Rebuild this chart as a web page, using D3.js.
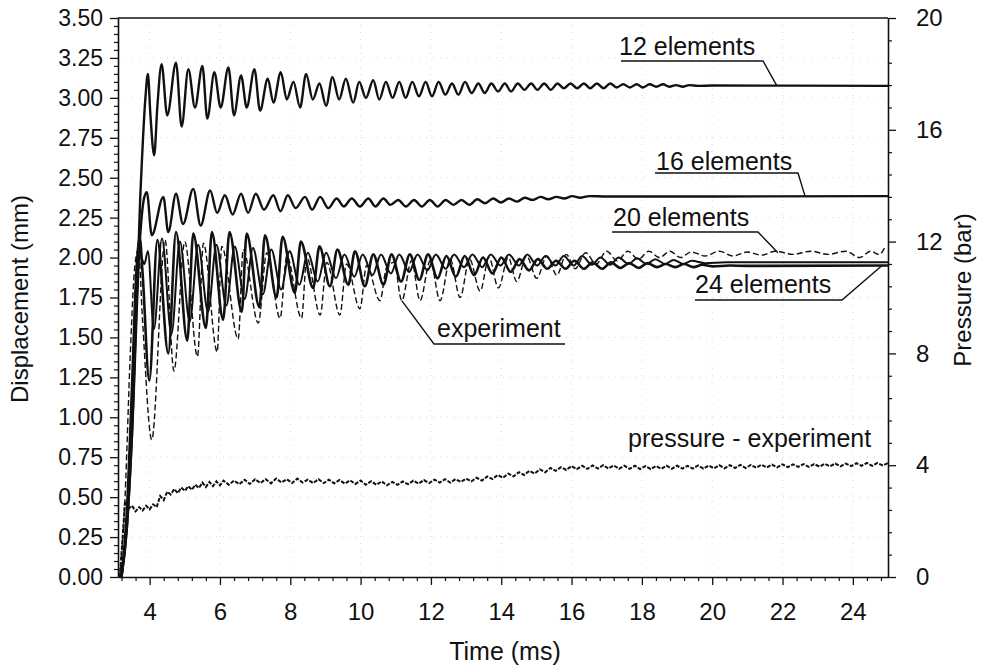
<!DOCTYPE html>
<html><head><meta charset="utf-8">
<script src="https://cdn.jsdelivr.net/npm/d3@7"></script>
<style>
body{margin:0;background:#fff}
svg{display:block}
text{font-family:"Liberation Sans",Arial,sans-serif;fill:#111}
</style>
</head><body>
<svg id="chart" width="982" height="671"></svg>
<script>
// ---------------- data ----------------
const xTicks = [4,6,8,10,12,14,16,18,20,22,24];
const yLeftTicks = [0,0.25,0.5,0.75,1.0,1.25,1.5,1.75,2.0,2.25,2.5,2.75,3.0,3.25,3.5];
const yRightTicks = [0,4,8,12,16,20];
const seriesNames = ["12 elements","16 elements","20 elements","24 elements","experiment","pressure - experiment"];

// [time (ms), displacement (mm)]
const s12 = [[3.2,0],[3.35,0.3],[3.5,0.9],[3.73,2.36],[3.88,3.0],[3.95,3.15],[4.02,2.9],[4.13,2.64],[4.22,2.95],[4.34,3.21],[4.50,2.89],[4.75,3.22],[4.91,2.82],[5.10,3.18],[5.29,2.94],[5.50,3.20],[5.64,2.87],[5.84,3.16],[6.02,2.94],[6.24,3.19],[6.40,2.89],[6.60,3.14],[6.76,2.94],[6.98,3.18],[7.14,2.92],[7.36,3.12],[7.52,2.97],[7.73,3.16],[7.90,2.99],[8.09,3.10],[8.28,2.94],[8.45,3.15],[8.64,2.99],[8.83,3.09],[9.02,2.95],[9.20,3.13],[9.39,2.99],[9.58,3.12],[9.79,2.97],[9.96,3.10],[10.15,3.00],[10.36,3.11],[10.53,2.99],[10.72,3.10],[10.91,3.00],[11.10,3.10],[11.28,3.00],[11.47,3.10],[11.66,3.01],[11.85,3.10],[12.03,3.01],[12.22,3.10],[12.41,3.02],[12.60,3.09],[12.78,3.02],[12.97,3.10],[13.16,3.03],[13.35,3.09],[13.53,3.03],[13.72,3.09],[13.91,3.04],[14.10,3.09],[14.28,3.04],[14.47,3.09],[14.66,3.05],[14.85,3.09],[15.03,3.05],[15.22,3.09],[15.41,3.05],[15.60,3.09],[15.78,3.06],[15.97,3.09],[16.16,3.06],[16.35,3.09],[16.53,3.06],[16.72,3.09],[16.91,3.06],[17.10,3.09],[17.28,3.065],[17.47,3.085],[17.66,3.065],[17.85,3.085],[18.03,3.065],[18.22,3.085],[18.41,3.07],[18.60,3.085],[18.78,3.07],[18.97,3.08],[19.16,3.07],[19.35,3.08],[19.6,3.075],[20.0,3.077],[25.0,3.075]];

const s16 = [[3.2,0],[3.35,0.3],[3.5,0.9],[3.72,2.1],[3.85,2.38],[3.92,2.41],[4.06,2.14],[4.39,2.38],[4.53,2.16],[4.75,2.40],[4.95,2.21],[5.24,2.43],[5.45,2.20],[5.72,2.42],[5.92,2.28],[6.14,2.39],[6.36,2.27],[6.60,2.40],[6.80,2.28],[7.02,2.40],[7.25,2.30],[7.52,2.39],[7.72,2.29],[7.93,2.39],[8.15,2.31],[8.42,2.38],[8.62,2.30],[8.85,2.38],[9.08,2.31],[9.32,2.37],[9.52,2.32],[9.75,2.37],[9.98,2.32],[10.22,2.37],[10.42,2.32],[10.65,2.37],[10.85,2.33],[11.07,2.36],[11.29,2.32],[11.52,2.36],[11.74,2.32],[11.97,2.36],[12.19,2.32],[12.42,2.36],[12.64,2.33],[12.87,2.36],[13.09,2.33],[13.32,2.365],[13.54,2.34],[13.77,2.37],[13.99,2.345],[14.22,2.37],[14.44,2.35],[14.67,2.375],[14.89,2.36],[15.12,2.38],[15.34,2.365],[15.57,2.38],[15.79,2.37],[16.02,2.385],[16.24,2.375],[16.5,2.385],[17.0,2.382],[25.0,2.385]];

const s20 = [[3.2,0],[3.35,0.35],[3.5,1.1],[3.62,1.85],[3.72,2.02],[3.85,1.96],[3.95,2.04],[4.12,1.55],[4.35,2.12],[4.62,1.52],[4.86,2.1],[5.14,1.6],[5.38,2.08],[5.66,1.66],[5.9,2.08],[6.18,1.7],[6.42,2.07],[6.7,1.74],[6.94,2.06],[7.22,1.77],[7.46,2.05],[7.74,1.8],[7.98,2.04],[8.26,1.83],[8.5,2.03],[8.78,1.85],[9.02,2.03],[9.3,1.87],[9.54,2.02],[9.82,1.88],[10.06,2.02],[10.34,1.89],[10.58,2.02],[10.86,1.9],[11.1,2.02],[11.38,1.91],[11.62,2.02],[11.9,1.92],[12.14,2.02],[12.42,1.93],[12.66,2.02],[12.94,1.94],[13.18,2.02],[13.46,1.94],[13.7,2.02],[13.98,1.95],[14.22,2.02],[14.5,1.95],[14.74,2.02],[15.02,1.95],[15.26,2.01],[15.54,1.95],[15.78,2.01],[16.06,1.95],[16.3,2.01],[16.58,1.955],[16.82,2.0],[17.1,1.955],[17.34,2.0],[17.62,1.96],[17.86,1.995],[18.14,1.96],[18.38,1.99],[18.66,1.96],[18.9,1.985],[19.18,1.96],[19.42,1.98],[19.8,1.965],[20.4,1.97],[25.0,1.97]];

const s24 = [[3.2,0],[3.35,0.4],[3.5,1.2],[3.62,1.9],[3.72,2.12],[3.8,1.9],[3.99,1.23],[4.22,2.11],[4.53,1.40],[4.75,2.16],[5.07,1.48],[5.24,2.15],[5.60,1.56],[5.77,2.16],[6.09,1.61],[6.27,2.16],[6.62,1.66],[6.76,2.15],[7.12,1.69],[7.28,2.14],[7.61,1.75],[7.78,2.13],[8.13,1.78],[8.30,2.10],[8.65,1.81],[8.83,2.07],[9.13,1.82],[9.34,2.05],[9.65,1.83],[9.84,2.04],[10.12,1.82],[10.36,2.02],[10.65,1.83],[10.88,2.02],[11.15,1.85],[11.40,2.02],[11.67,1.86],[11.92,2.02],[12.19,1.87],[12.44,2.01],[12.71,1.88],[12.96,2.01],[13.23,1.89],[13.48,2.0],[13.75,1.90],[14.0,2.0],[14.27,1.91],[14.52,1.99],[14.79,1.92],[15.04,1.99],[15.31,1.93],[15.56,1.98],[15.83,1.93],[16.08,1.98],[16.35,1.93],[16.6,1.97],[16.87,1.93],[17.12,1.97],[17.39,1.935],[17.64,1.965],[17.91,1.935],[18.16,1.965],[18.43,1.94],[18.68,1.96],[18.95,1.94],[19.2,1.96],[19.47,1.94],[19.72,1.955],[20.0,1.945],[20.5,1.95],[21.0,1.948],[25.0,1.95]];

const experiment = [[3.15,0],[3.3,0.5],[3.45,1.4],[3.58,1.95],[3.68,2.05],[3.8,1.6],[4.06,0.86],[4.44,2.11],[4.69,1.29],[5.0,2.10],[5.36,1.38],[5.53,2.09],[5.92,1.41],[6.05,2.07],[6.52,1.49],[6.66,2.05],[7.09,1.59],[7.33,2.03],[7.71,1.62],[7.90,2.01],[8.32,1.62],[8.47,2.0],[8.85,1.64],[9.04,1.97],[9.41,1.64],[9.60,1.96],[9.98,1.68],[10.17,1.95],[10.55,1.73],[10.74,1.94],[10.95,1.97],[11.17,1.73],[11.45,1.98],[11.69,1.73],[11.98,1.98],[12.26,1.73],[12.55,1.99],[12.83,1.75],[13.1,1.99],[13.40,1.79],[13.65,2.0],[13.92,1.81],[14.2,2.0],[14.44,1.85],[14.72,2.01],[15.01,1.87],[15.3,2.01],[15.58,1.89],[15.85,2.02],[16.1,1.93],[16.4,2.03],[16.7,1.96],[17.0,2.04],[17.3,1.98],[17.6,2.04],[17.9,1.99],[18.2,2.04],[18.5,2.0],[18.8,2.04],[19.1,2.0],[19.4,2.035],[19.8,2.01],[20.2,2.04],[20.6,2.01],[21.0,2.035],[21.4,2.015],[21.8,2.04],[22.3,2.02],[22.8,2.04],[23.3,2.02],[23.8,2.04],[24.2,2.0],[24.5,2.04],[24.75,2.02],[24.9,2.06]];

// [time (ms), pressure (bar)]
const pressure = [[3.15,0],[3.22,1.2],[3.3,2.7],[3.4,2.45],[3.5,2.55],[3.6,2.35],[3.7,2.5],[3.8,2.38],[3.9,2.55],[4.0,2.42],[4.1,2.6],[4.2,2.5],[4.3,2.9],[4.4,2.75],[4.5,3.05],[4.6,2.95],[4.7,3.15],[4.8,3.0],[4.9,3.2],[5.0,3.08],[5.1,3.25],[5.2,3.12],[5.3,3.3],[5.4,3.18],[5.5,3.38],[5.6,3.22],[5.7,3.4],[5.8,3.25],[5.9,3.42],[6.0,3.28],[6.1,3.45],[6.25,3.3],[6.4,3.45],[6.55,3.32],[6.7,3.48],[6.85,3.33],[7.0,3.5],[7.15,3.36],[7.3,3.5],[7.45,3.35],[7.6,3.52],[7.75,3.38],[7.9,3.5],[8.05,3.36],[8.2,3.52],[8.35,3.38],[8.5,3.48],[8.65,3.36],[8.8,3.5],[8.95,3.36],[9.1,3.48],[9.25,3.35],[9.4,3.47],[9.55,3.34],[9.7,3.46],[9.85,3.33],[10.0,3.45],[10.15,3.3],[10.3,3.43],[10.45,3.3],[10.6,3.42],[10.75,3.28],[10.9,3.4],[11.05,3.3],[11.2,3.42],[11.35,3.32],[11.5,3.45],[11.65,3.34],[11.8,3.47],[11.95,3.36],[12.1,3.48],[12.25,3.38],[12.4,3.5],[12.55,3.38],[12.7,3.5],[12.85,3.4],[13.0,3.52],[13.15,3.42],[13.3,3.55],[13.45,3.45],[13.6,3.6],[13.75,3.5],[13.9,3.65],[14.05,3.55],[14.2,3.7],[14.35,3.6],[14.5,3.75],[14.65,3.65],[14.8,3.8],[14.95,3.7],[15.1,3.85],[15.25,3.75],[15.4,3.9],[15.55,3.8],[15.7,3.93],[15.85,3.83],[16.0,3.97],[16.15,3.86],[16.3,3.98],[16.45,3.87],[16.6,3.99],[16.75,3.88],[16.9,4.0],[17.05,3.88],[17.2,3.99],[17.35,3.87],[17.5,3.98],[17.65,3.87],[17.8,3.98],[17.95,3.86],[18.1,3.97],[18.25,3.86],[18.4,3.97],[18.55,3.87],[18.7,3.98],[18.85,3.87],[19.0,3.98],[19.15,3.88],[19.3,3.98],[19.45,3.88],[19.6,3.99],[19.75,3.88],[19.9,3.99],[20.05,3.89],[20.2,4.0],[20.35,3.89],[20.5,4.0],[20.65,3.9],[20.8,4.01],[20.95,3.9],[21.1,4.01],[21.25,3.91],[21.4,4.02],[21.55,3.92],[21.7,4.02],[21.85,3.92],[22.0,4.03],[22.15,3.93],[22.3,4.03],[22.45,3.94],[22.6,4.04],[22.75,3.94],[22.9,4.04],[23.05,3.95],[23.2,4.05],[23.35,3.96],[23.5,4.06],[23.65,3.96],[23.8,4.06],[23.95,3.97],[24.1,4.07],[24.25,3.98],[24.4,4.08],[24.55,3.98],[24.7,4.08],[24.85,3.99],[25.0,4.08]];

// leader targets in data units [time, displacement]
const leaderTargets = [[21.84,3.075],[22.64,2.385],[21.87,2.03],[24.83,1.95],[11.17,1.73],null];

// ---------------- layout ----------------
const L = 118, R = 888, T = 18, B = 577;
const svg = d3.select("#chart");
const x = d3.scaleLinear().domain([3.1, 25]).range([L, R]);
const y = d3.scaleLinear().domain([0, 3.5]).range([B, T]);
const y2 = d3.scaleLinear().domain([0, 20]).range([B, T]);

// faint dotted grid
const grid = svg.append("g").attr("stroke", "#d6d6d6").attr("stroke-width", 1).attr("stroke-dasharray", "1,6");
grid.selectAll(".gx").data(xTicks).join("line")
  .attr("x1", d => x(d)).attr("x2", d => x(d)).attr("y1", T).attr("y2", B);
grid.selectAll(".gy").data(yLeftTicks.slice(1, -1)).join("line")
  .attr("x1", L).attr("x2", R).attr("y1", d => y(d)).attr("y2", d => y(d));

// minor tick values
const xMinor = d3.range(3.2, 25, 0.4).filter(v => Math.abs(v / 2 - Math.round(v / 2)) > 1e-6);
const yMinor = d3.range(0.05, 3.5, 0.05).filter(v => Math.abs(v / 0.25 - Math.round(v / 0.25)) > 1e-6);
const y2Minor = d3.range(0.8, 20, 0.8).filter(v => Math.abs(v / 4 - Math.round(v / 4)) > 1e-6);

function styleAxis(g, fs) {
  g.select(".domain").attr("stroke", "#111").attr("stroke-width", 1.6);
  g.selectAll(".tick line").attr("stroke", "#111").attr("stroke-width", 1.3);
  g.selectAll("text").attr("font-size", fs).attr("fill", "#111")
    .attr("font-family", '"Liberation Sans", Arial, sans-serif');
}

// bottom axis
const gxMin = svg.append("g").attr("transform", `translate(0,${B})`)
  .call(d3.axisBottom(x).tickValues(xMinor).tickSize(4).tickSizeOuter(0).tickFormat(""));
gxMin.select(".domain").remove();
gxMin.selectAll(".tick line").attr("stroke", "#111").attr("stroke-width", 1.2);
const gx = svg.append("g").attr("transform", `translate(0,${B})`)
  .call(d3.axisBottom(x).tickValues(xTicks).tickSize(8).tickSizeOuter(0).tickPadding(18).tickFormat(d3.format("d")));
styleAxis(gx, 24);

// left axis
const gyMin = svg.append("g").attr("transform", `translate(${L},0)`)
  .call(d3.axisLeft(y).tickValues(yMinor).tickSize(4).tickSizeOuter(0).tickFormat(""));
gyMin.select(".domain").remove();
gyMin.selectAll(".tick line").attr("stroke", "#111").attr("stroke-width", 1.2);
const gy = svg.append("g").attr("transform", `translate(${L},0)`)
  .call(d3.axisLeft(y).tickValues(yLeftTicks).tickSize(8).tickSizeOuter(0).tickPadding(7).tickFormat(d3.format(".2f")));
styleAxis(gy, 23);

// right axis
const gy2Min = svg.append("g").attr("transform", `translate(${R},0)`)
  .call(d3.axisRight(y2).tickValues(y2Minor).tickSize(4).tickSizeOuter(0).tickFormat(""));
gy2Min.select(".domain").remove();
gy2Min.selectAll(".tick line").attr("stroke", "#111").attr("stroke-width", 1.2);
const gy2 = svg.append("g").attr("transform", `translate(${R},0)`)
  .call(d3.axisRight(y2).tickValues(yRightTicks).tickSize(8).tickSizeOuter(0).tickPadding(20).tickFormat(d3.format("d")));
styleAxis(gy2, 24);

// top border
svg.append("line").attr("x1", L).attr("x2", R).attr("y1", T).attr("y2", T)
  .attr("stroke", "#111").attr("stroke-width", 1.6);

// axis titles
svg.append("text").attr("x", 505).attr("y", 660).attr("text-anchor", "middle")
  .attr("font-size", 25).text("Time (ms)");
svg.append("text").attr("transform", "translate(28,299) rotate(-90)").attr("text-anchor", "middle")
  .attr("font-size", 24).text("Displacement (mm)");
svg.append("text").attr("transform", "translate(971,290) rotate(-90)").attr("text-anchor", "middle")
  .attr("font-size", 24).text("Pressure (bar)");

// clip
svg.append("clipPath").attr("id", "plotclip").append("rect")
  .attr("x", L).attr("y", T).attr("width", R - L).attr("height", B - T);
const plot = svg.append("g").attr("clip-path", "url(#plotclip)");

const lineDisp = d3.line().x(d => x(d[0])).y(d => y(d[1])).curve(d3.curveMonotoneX);
const linePres = d3.line().x(d => x(d[0])).y(d => y2(d[1])).curve(d3.curveLinear);

plot.append("path").datum(pressure).attr("d", linePres)
  .attr("fill", "none").attr("stroke", "#111").attr("stroke-width", 2).attr("stroke-dasharray", "4,1.5");
plot.append("path").datum(experiment).attr("d", lineDisp)
  .attr("fill", "none").attr("stroke", "#111").attr("stroke-width", 1.4).attr("stroke-dasharray", "6,3");
plot.append("path").datum(s20).attr("d", lineDisp)
  .attr("fill", "none").attr("stroke", "#111").attr("stroke-width", 2);
plot.append("path").datum(s24).attr("d", lineDisp)
  .attr("fill", "none").attr("stroke", "#111").attr("stroke-width", 2.6);
plot.append("path").datum(s16).attr("d", lineDisp)
  .attr("fill", "none").attr("stroke", "#111").attr("stroke-width", 2.4);
plot.append("path").datum(s12).attr("d", lineDisp)
  .attr("fill", "none").attr("stroke", "#111").attr("stroke-width", 2.4);

// annotations (text position, underline span)
const labelLayout = [
  {tx: 619, ty: 55,  u0: 621, u1: 763, uy: 61},
  {tx: 656, ty: 170, u0: 655, u1: 798, uy: 173},
  {tx: 613, ty: 226, u0: 612, u1: 758, uy: 232},
  {tx: 695, ty: 293, u0: 695, u1: 842, uy: 300},
  {tx: 437, ty: 337, u0: 565, u1: 434, uy: 344},
  {tx: 628, ty: 447, u0: null}
];
const ann = svg.append("g");
seriesNames.forEach((name, i) => {
  const lay = labelLayout[i];
  ann.append("text").attr("x", lay.tx).attr("y", lay.ty).attr("font-size", 25).text(name);
  if (lay.u0 !== null && leaderTargets[i]) {
    const tgt = leaderTargets[i];
    ann.append("path")
      .attr("d", `M${lay.u0},${lay.uy}L${lay.u1},${lay.uy}L${x(tgt[0])},${y(tgt[1])}`)
      .attr("fill", "none").attr("stroke", "#111").attr("stroke-width", 1.4);
  }
});
</script>
</body></html>
